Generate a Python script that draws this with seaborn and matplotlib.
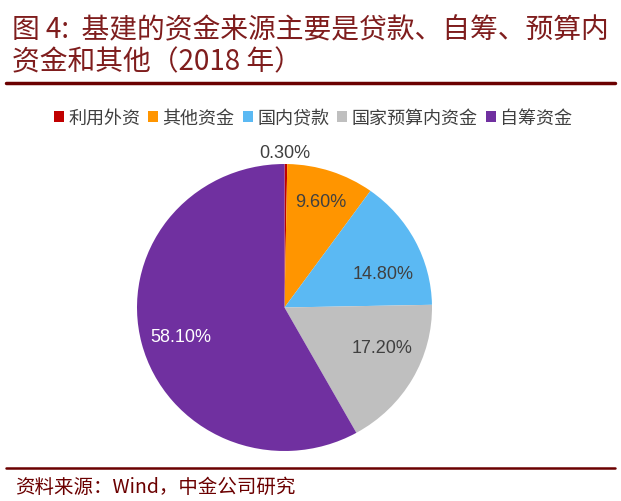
import numpy as np
import matplotlib
matplotlib.use("Agg")
import matplotlib.pyplot as plt
import seaborn as sns
from matplotlib.lines import Line2D
from matplotlib.patches import Patch

# ---- data ----
categories = ["利用外资", "其他资金", "国内贷款", "国家预算内资金", "自筹资金"]
shares = [0.30, 9.60, 14.80, 17.20, 58.10]
colors = ["#C00000", "#FF9500", "#5BB9F3", "#BFBFBF", "#7030A0"]
title_lines = ["图 4:  基建的资金来源主要是贷款、自筹、预算内", "资金和其他（2018 年）"]
source_text = "资料来源：Wind，中金公司研究"

# label placement style (radius as fraction, angle offset in degrees)
label_radius = [1.08, 0.78, 0.71, 0.72, 0.73]
label_angle_shift = [0.5, 0.0, -8.0, 7.0, 1.5]
label_colors = ["#404040", "#404040", "#404040", "#404040", "white"]

sns.set_theme(style="white")
plt.rcParams["font.family"] = ["Noto Sans CJK SC", "DejaVu Sans"]
palette = sns.color_palette(colors)

W, H = 621, 502
fig = plt.figure(figsize=(W / 100, H / 100), dpi=100)

# pie axes: center (284.5,308.5) px, radii 147.5 x 143.5 px
cx, cy, RX, RY = 284.5, 308.5, 147.5, 143.5
ax = fig.add_axes([(cx - RX) / W, (H - cy - RY) / H, 2 * RX / W, 2 * RY / H])
wedges, _ = ax.pie(shares, colors=palette, startangle=90, counterclock=False,
                   radius=1.0, wedgeprops=dict(linewidth=0))
ax.set_aspect("auto")
ax.set_xlim(-1, 1)
ax.set_ylim(-1, 1)
ax.axis("off")

for w, v, r, sh, c in zip(wedges, shares, label_radius, label_angle_shift, label_colors):
    ang = np.deg2rad((w.theta1 + w.theta2) / 2 + sh)
    ax.text(r * np.cos(ang), r * np.sin(ang), f"{v:.2f}%", ha="center", va="center",
            fontsize=13, color=c, family=["Liberation Sans", "DejaVu Sans"], clip_on=False)

# legend
handles = [Patch(facecolor=col, edgecolor="none") for col in palette]
fig.legend(handles, categories, loc="center", bbox_to_anchor=(313 / W, 1 - 119 / H),
           ncol=5, frameon=False, fontsize=13, handlelength=0.55, handleheight=0.6,
           handletextpad=0.25, columnspacing=0.45, labelcolor="#404040",
           borderaxespad=0, borderpad=0)

# title
title_color = "#7F1D1D"
fig.text(12 / W, 1 - 30 / H, title_lines[0], ha="left", va="center", fontsize=20,
         color=title_color, fontstyle="italic")
fig.text(12 / W, 1 - 62 / H, title_lines[1], ha="left", va="center", fontsize=20,
         color=title_color, fontstyle="italic")

# separator lines
fig.add_artist(Line2D([6 / W, 615 / W], [1 - 84 / H, 1 - 84 / H], color="#6B0000", lw=2.5))
fig.add_artist(Line2D([6 / W, 615 / W], [1 - 469 / H, 1 - 469 / H], color="#6B0000", lw=1.8))

# footer
fig.text(15 / W, 1 - 487 / H, source_text, ha="left", va="center", fontsize=14,
         color="#6B0000", fontstyle="italic")

fig.savefig("out.png", dpi=100, facecolor="white")
